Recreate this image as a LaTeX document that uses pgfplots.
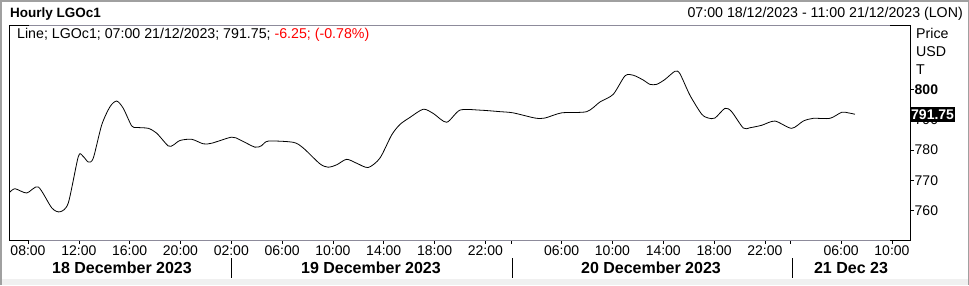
\documentclass[border=0pt]{standalone}
\usepackage{pgfplots}
\pgfplotsset{compat=1.18}
\usepackage{fontspec}
\setmainfont{Liberation Sans}
\definecolor{framegray}{HTML}{8D8B9B}
\definecolor{outergray}{HTML}{A0A0A0}
\definecolor{stripgray}{HTML}{F0F0F0}
\begin{document}
\fontsize{14.2}{16}\selectfont
\begin{tikzpicture}[x=1pt,y=1pt]
\useasboundingbox (0,0) rectangle (969,285);
\fill[stripgray] (0,0) rectangle (969,6);
\draw[outergray, line width=1.5pt] (0.75,0) -- (0.75,284.25) -- (968.25,284.25) -- (968.25,0);
\begin{axis}[
  at={(9pt,45pt)}, anchor=south west,
  scale only axis, width=901pt, height=215pt,
  xmin=-1.495, xmax=69.42, ymin=750.31, ymax=821.15,
  axis line style={draw=none},
  tick align=outside,
  major tick length=3.5pt,
  tick style={black, line width=0.6pt},
  xtick pos=bottom, ytick pos=right,
  xtick={0,4,8,12,16,20,24,28,32,36,38,42,46,50,54,58,60,64,68},
  xticklabels={08:00,12:00,16:00,20:00,02:00,06:00,10:00,14:00,18:00,22:00,,06:00,10:00,14:00,18:00,22:00,,06:00,10:00},
  ytick={760,770,780,790,800},
  yticklabels={760,770,780,790,\textbf{800}},
  xticklabel style={font=\fontsize{14}{16}\selectfont, inner sep=0pt, anchor=center, yshift=-7.5pt},
  yticklabel style={font=\fontsize{14}{16}\selectfont, inner sep=1pt, anchor=west},
  /pgf/number format/assume math mode=true,
  clip=false,
]
\addplot[black, line width=0.8pt, smooth, tension=0.45] coordinates {
(-1.42,766.1) (-1.02,767.2) (-0.10,765.8) (0.81,767.8) (1.87,760.9) (2.52,759.6)
(3.17,762.5) (3.96,777.8) (4.31,778.0) (4.75,776.0) (5.14,777.3) (5.80,788.2)
(6.45,794.2) (6.98,796.1) (7.50,793.7) (8.16,787.9) (8.55,787.4) (9.47,787.1)
(10.13,785.5) (11.04,781.3) (11.44,781.6) (11.96,783.1) (12.88,783.5) (13.80,782.0)
(14.46,782.2) (16.03,784.2) (16.69,783.3) (17.86,780.9) (18.39,781.4) (18.91,782.9)
(20.88,782.5) (21.67,780.6) (22.98,775.4) (23.63,774.3) (24.30,775.1) (25.08,776.9)
(25.87,775.6) (26.78,774.2) (27.70,777.3) (28.62,784.9) (29.28,788.4) (30.06,790.7)
(31.11,793.4) (31.90,792.0) (32.95,789.1) (34.00,793.1) (35.57,793.1) (37.15,792.6)
(38.19,792.2) (39.90,790.5) (40.69,790.5) (42.00,792.2) (43.97,792.6) (45.02,795.8)
(46.06,798.3) (46.99,804.4) (47.64,804.6) (48.43,803.0) (48.95,801.6) (49.48,801.6)
(50.13,803.2) (50.92,805.9) (51.31,805.1) (52.10,798.0) (53.02,791.8) (53.54,790.5)
(54.07,790.5) (54.86,793.7) (55.38,792.6) (56.30,787.2) (56.82,787.3) (57.74,788.1)
(58.79,789.5) (60.10,787.1) (61.02,789.5) (61.80,790.4) (63.12,790.4) (64.04,792.4)
(64.56,792.2) (65.09,791.75)
};
\node[fill=black, text=white, anchor=west, inner xsep=1pt, inner ysep=1.5pt, minimum height=15pt, font=\fontsize{14}{16}\selectfont\bfseries] at (axis cs:69.42,791.75) {791.75};
\end{axis}
% frame
\draw[framegray, line width=1pt] (9,260) -- (910,260);
\draw[framegray, line width=1pt] (9,45) -- (910,45);
\draw[black, line width=1pt] (29,260) -- (9,260) -- (9,45) -- (29,45);
\draw[black, line width=1pt] (890,260) -- (910,260) -- (910,45) -- (890,45);
% headers
\node[anchor=west, font=\fontsize{13.5}{15}\selectfont\bfseries, inner sep=0pt] at (10,271) {Hourly LGOc1};
\node[anchor=east, inner sep=0pt] at (963,270.7) {07:00 18/12/2023 - 11:00 21/12/2023 (LON)};
\node[anchor=west, inner sep=0pt] at (17,250) {Line; LGOc1; 07:00 21/12/2023; 791.75; \textcolor{red}{-6.25; (-0.78\%)}};
\node[anchor=west, inner sep=0pt] at (916,251.7) {Price};
\node[anchor=west, inner sep=0pt] at (916,233.3) {USD};
\node[anchor=west, inner sep=0pt] at (916,215.7) {T};
% day labels
\node[font=\fontsize{16}{18}\selectfont\bfseries, inner sep=0pt] at (122,17) {18 December 2023};
\node[font=\fontsize{16}{18}\selectfont\bfseries, inner sep=0pt] at (371,17) {19 December 2023};
\node[font=\fontsize{16}{18}\selectfont\bfseries, inner sep=0pt] at (651,17) {20 December 2023};
\node[font=\fontsize{16}{18}\selectfont\bfseries, inner sep=0pt] at (851,17) {21 Dec 23};
\draw[black, line width=0.8pt] (231,27) -- (231,7);
\draw[black, line width=0.8pt] (512,27) -- (512,7);
\draw[black, line width=0.8pt] (792,27) -- (792,7);
\end{tikzpicture}
\end{document}
